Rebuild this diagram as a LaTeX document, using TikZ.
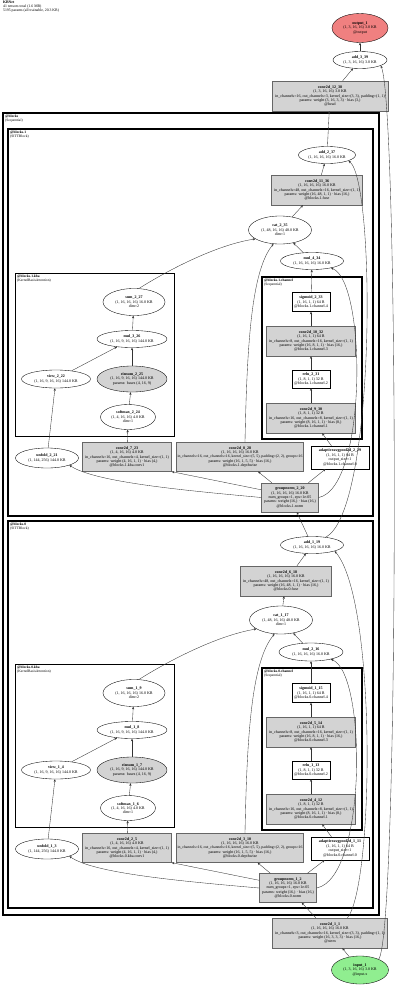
\documentclass[tikz,border=0pt]{standalone}
\usepackage{fontspec}
\setmainfont{Liberation Serif}
\usetikzlibrary{shapes.geometric,arrows.meta}
\definecolor{lgray}{HTML}{D3D3D3}
\definecolor{lred}{HTML}{F08080}
\definecolor{lgreen}{HTML}{90EE90}
\newsavebox\capbox
\newcommand\capw[2]{\sbox\capbox{#2}\ifdim\wd\capbox>#1\relax\resizebox{#1}{!}{\usebox\capbox}\else\usebox\capbox\fi}
\tikzset{
 nfont/.style={font=\fontsize{4}{4.4}\selectfont},
 ell/.style={ellipse, draw=black, line width=0.35pt, fill=white, inner sep=0pt, align=center, nfont},
 gell/.style={ell, fill=lgray},
 gbox/.style={rectangle, draw=black!60, line width=0.35pt, fill=lgray, inner sep=0pt, align=center, nfont},
 wbox/.style={gbox, fill=white, draw=black},
 edge/.style={draw=black!80, line width=0.35pt, -{Stealth[length=2.6pt,width=2.2pt]}},
 clus/.style={draw=black, line width=#1},
 clab/.style={anchor=north west, align=left, inner sep=0pt, font=\fontsize{3.6}{4}\selectfont},
 sz/.style 2 args={minimum width=#1pt, minimum height=#2pt},
}
\begin{document}
\begin{tikzpicture}[x=1pt,y=-1pt]
\fill[white] (0,0) rectangle (400,986);
\useasboundingbox (0,0) rectangle (400,986);

% title
\node[anchor=north west, align=left, inner sep=0pt, font=\fontsize{3.8}{4.1}\selectfont] (title) at (3,1)
 {\textbf{KBNet}\\41 tensors total (1.6 MB)\\5195 params (all trainable, 20.3 KB)};

% clusters
\draw[clus=1.5pt] (3,113) rectangle (379,915);
\node[clab] (lblocks) at (5,115) {\textbf{@blocks}\\(Sequential)};
\draw[clus=1.2pt] (8,129) rectangle (373,516);
\node[clab] (lb1) at (10,131) {\textbf{@blocks.1}\\(SITTBlock)};
\draw[clus=0.9pt] (15,273) rectangle (174,436);
\node[clab] (lb1k) at (17,275) {\textbf{@blocks.1.kba}\\(KernelBasisAttention)};
\draw[clus=1.2pt] (262,277) rectangle (362,439);
\node[clab] (lb1c) at (264,279) {\textbf{@blocks.1.channel}\\(Sequential)};
\draw[clus=1.2pt] (8,521) rectangle (373,908);
\node[clab] (lb0) at (10,523) {\textbf{@blocks.0}\\(SITTBlock)};
\draw[clus=0.9pt] (15,664) rectangle (174,827);
\node[clab] (lb0k) at (17,666) {\textbf{@blocks.0.kba}\\(KernelBasisAttention)};
\draw[clus=1.2pt] (262,668) rectangle (362,830);
\node[clab] (lb0c) at (264,670) {\textbf{@blocks.0.channel}\\(Sequential)};

% top
\node[ell, fill=lred, sz={56}{29}] (out1) at (360,28) {\textbf{output\_1}\\(1, 3, 16, 16) 3.0 KB\\@output};
\node[ell, sz={54}{17}] (add339) at (360,60) {\textbf{add\_3\_39}\\(1, 3, 16, 16) 3.0 KB};
\node[gbox, sz={116}{30}] (c1238) at (330,96) {\textbf{conv2d\_12\_38}\\(1, 3, 16, 16) 3.0 KB\\\capw{114pt}{in\_channels=16, out\_channels=3, kernel\_size=(3, 3), padding=(1, 1)}\\params: weight (3, 16, 3, 3) · bias (3,)\\@head};

% block 1
\node[ell, sz={57}{17}] (add237) at (327,155) {\textbf{add\_2\_37}\\(1, 16, 16, 16) 16.0 KB};
\node[gbox, sz={91}{30}] (c1136) at (317,190) {\textbf{conv2d\_11\_36}\\(1, 16, 16, 16) 16.0 KB\\\capw{89pt}{in\_channels=48, out\_channels=16, kernel\_size=(1, 1)}\\params: weight (16, 48, 1, 1) · bias (16,)\\@blocks.1.fuse};
\node[ell, sz={63}{28}] (cat235) at (280,230) {\textbf{cat\_2\_35}\\(1, 48, 16, 16) 48.0 KB\\dim=1};
\node[ell, sz={63}{17}] (mul434) at (312,261) {\textbf{mul\_4\_34}\\(1, 16, 16, 16) 16.0 KB};
\node[ell, sz={62}{27}] (sum227) at (134,302) {\textbf{sum\_2\_27}\\(1, 16, 16, 16) 16.0 KB\\dim=2};
\node[ell, sz={70}{17}] (mul326) at (132,339) {\textbf{mul\_3\_26}\\(1, 16, 9, 16, 16) 144.0 KB};
\node[ell, sz={69}{18}] (view222) at (56,379) {\textbf{view\_2\_22}\\(1, 16, 9, 16, 16) 144.0 KB};
\node[gell, sz={70}{26}] (ein225) at (132,379) {\textbf{einsum\_2\_25}\\(1, 16, 9, 16, 16) 144.0 KB\\params: bases (4, 16, 9)};
\node[ell, sz={55}{25}] (sm224) at (128,417) {\textbf{softmax\_2\_24}\\(1, 4, 16, 16) 4.0 KB\\dim=1};
\node[wbox, sz={38}{19}] (sig233) at (311,302) {\textbf{sigmoid\_2\_33}\\(1, 16, 1, 1) 64 B\\@blocks.1.channel.4};
\node[gbox, sz={89}{30}] (c1032) at (311,341) {\textbf{conv2d\_10\_32}\\(1, 16, 1, 1) 64 B\\\capw{87pt}{in\_channels=8, out\_channels=16, kernel\_size=(1, 1)}\\params: weight (16, 8, 1, 1) · bias (16,)\\@blocks.1.channel.3};
\node[wbox, sz={38}{18}] (relu231) at (311,379) {\textbf{relu\_2\_31}\\(1, 8, 1, 1) 32 B\\@blocks.1.channel.2};
\node[gbox, sz={89}{30}] (c930) at (311,418) {\textbf{conv2d\_9\_30}\\(1, 8, 1, 1) 32 B\\\capw{87pt}{in\_channels=16, out\_channels=8, kernel\_size=(1, 1)}\\params: weight (8, 16, 1, 1) · bias (8,)\\@blocks.1.channel.1};
\node[ell, sz={63}{20}] (unf221) at (47,458) {\textbf{unfold\_2\_21}\\(1, 144, 256) 144.0 KB};
\node[gbox, sz={89}{29}] (c723) at (127,457) {\textbf{conv2d\_7\_23}\\(1, 4, 16, 16) 4.0 KB\\\capw{87pt}{in\_channels=16, out\_channels=4, kernel\_size=(1, 1)}\\params: weight (4, 16, 1, 1) · bias (4,)\\@blocks.1.kba.conv1};
\node[gbox, sz={127}{29}] (c828) at (240,457) {\textbf{conv2d\_8\_28}\\(1, 16, 16, 16) 16.0 KB\\\capw{125pt}{in\_channels=16, out\_channels=16, kernel\_size=(5, 5), padding=(2, 2), groups=16}\\params: weight (16, 1, 5, 5) · bias (16,)\\@blocks.1.depthwise};
\node[wbox, sz={58}{23}] (ap229) at (340,457.5) {\capw{56pt}{\textbf{adaptiveavgpool2d\_2\_29}}\\(1, 16, 1, 1) 64 B\\output\_size=1\\@blocks.1.channel.0};
\node[gbox, sz={57}{29}] (gn220) at (290,497.5) {\textbf{groupnorm\_2\_20}\\(1, 16, 16, 16) 16.0 KB\\num\_groups=1, eps=1e-05\\\capw{55pt}{params: weight (16,) · bias (16,)}\\@blocks.1.norm};

% block 0
\node[ell, sz={63}{17}] (add119) at (312,545) {\textbf{add\_1\_19}\\(1, 16, 16, 16) 16.0 KB};
\node[gbox, sz={91}{30}] (c618) at (286,581) {\textbf{conv2d\_6\_18}\\(1, 16, 16, 16) 16.0 KB\\\capw{89pt}{in\_channels=48, out\_channels=16, kernel\_size=(1, 1)}\\params: weight (16, 48, 1, 1) · bias (16,)\\@blocks.0.fuse};
\node[ell, sz={63}{28}] (cat117) at (281,620) {\textbf{cat\_1\_17}\\(1, 48, 16, 16) 48.0 KB\\dim=1};
\node[ell, sz={64}{18}] (mul216) at (311,652) {\textbf{mul\_2\_16}\\(1, 16, 16, 16) 16.0 KB};
\node[ell, sz={62}{27}] (sum19) at (134,693) {\textbf{sum\_1\_9}\\(1, 16, 16, 16) 16.0 KB\\dim=2};
\node[ell, sz={70}{17}] (mul18) at (132,730) {\textbf{mul\_1\_8}\\(1, 16, 9, 16, 16) 144.0 KB};
\node[ell, sz={69}{18}] (view14) at (56,770) {\textbf{view\_1\_4}\\(1, 16, 9, 16, 16) 144.0 KB};
\node[gell, sz={70}{26}] (ein17) at (132,770) {\textbf{einsum\_1\_7}\\(1, 16, 9, 16, 16) 144.0 KB\\params: bases (4, 16, 9)};
\node[ell, sz={55}{25}] (sm16) at (128,808) {\textbf{softmax\_1\_6}\\(1, 4, 16, 16) 4.0 KB\\dim=1};
\node[wbox, sz={38}{19}] (sig115) at (311,693) {\textbf{sigmoid\_1\_15}\\(1, 16, 1, 1) 64 B\\@blocks.0.channel.4};
\node[gbox, sz={89}{30}] (c514) at (311,732) {\textbf{conv2d\_5\_14}\\(1, 16, 1, 1) 64 B\\\capw{87pt}{in\_channels=8, out\_channels=16, kernel\_size=(1, 1)}\\params: weight (16, 8, 1, 1) · bias (16,)\\@blocks.0.channel.3};
\node[wbox, sz={38}{18}] (relu113) at (311,770) {\textbf{relu\_1\_13}\\(1, 8, 1, 1) 32 B\\@blocks.0.channel.2};
\node[gbox, sz={89}{30}] (c412) at (311,809) {\textbf{conv2d\_4\_12}\\(1, 8, 1, 1) 32 B\\\capw{87pt}{in\_channels=16, out\_channels=8, kernel\_size=(1, 1)}\\params: weight (8, 16, 1, 1) · bias (8,)\\@blocks.0.channel.1};
\node[ell, sz={63}{20}] (unf13) at (47,849) {\textbf{unfold\_1\_3}\\(1, 144, 256) 144.0 KB};
\node[gbox, sz={89}{29}] (c25) at (127,848) {\textbf{conv2d\_2\_5}\\(1, 4, 16, 16) 4.0 KB\\\capw{87pt}{in\_channels=16, out\_channels=4, kernel\_size=(1, 1)}\\params: weight (4, 16, 1, 1) · bias (4,)\\@blocks.0.kba.conv1};
\node[gbox, sz={127}{29}] (c310) at (240,848) {\textbf{conv2d\_3\_10}\\(1, 16, 16, 16) 16.0 KB\\\capw{125pt}{in\_channels=16, out\_channels=16, kernel\_size=(5, 5), padding=(2, 2), groups=16}\\params: weight (16, 1, 5, 5) · bias (16,)\\@blocks.0.depthwise};
\node[wbox, sz={58}{23}] (ap111) at (340,848.5) {\capw{56pt}{\textbf{adaptiveavgpool2d\_1\_11}}\\(1, 16, 1, 1) 64 B\\output\_size=1\\@blocks.0.channel.0};
\node[gbox, sz={57}{29}] (gn12) at (288,888) {\textbf{groupnorm\_1\_2}\\(1, 16, 16, 16) 16.0 KB\\num\_groups=1, eps=1e-05\\\capw{55pt}{params: weight (16,) · bias (16,)}\\@blocks.0.norm};

% bottom
\node[gbox, sz={115}{30}] (c11) at (330,933) {\textbf{conv2d\_1\_1}\\(1, 16, 16, 16) 16.0 KB\\\capw{113pt}{in\_channels=3, out\_channels=16, kernel\_size=(3, 3), padding=(1, 1)}\\params: weight (16, 3, 3, 3) · bias (16,)\\@stem};
\node[ell, fill=lgreen, sz={57}{28}] (in1) at (360,970) {\textbf{input\_1}\\(1, 3, 16, 16) 3.0 KB\\@input.x};

% edges: top
\draw[edge] (add339) -- (out1);
\draw[edge] (c1238) -- (add339);
\draw[edge] (add237) -- (c1238);
\draw[edge] (in1) -- (c11);
\draw[edge] (in1.30) .. controls (399,935) and (399,110) .. (add339.-15);

% edges: block 1
\draw[edge] (c1136) -- (add237);
\draw[edge] (cat235) -- (c1136);
\draw[edge] (mul434) -- (cat235);
\draw[edge] (sum227.70) .. controls (165,272) and (215,245) .. (cat235.200);
\draw[edge] ([xshift=5pt]c828.north) .. controls (247,340) and (252,270) .. (cat235.245);
\draw[edge] (sig233) -- (mul434);
\draw[edge] (c1032) -- (sig233);
\draw[edge] (relu231) -- (c1032);
\draw[edge] (c930) -- (relu231);
\draw[edge] (ap229) -- (c930);
\draw[edge] (mul326) -- (sum227);
\draw[edge] (view222) -- (mul326);
\draw[edge] (ein225) -- (mul326);
\draw[edge] (sm224) -- (ein225);
\draw[edge] (c723) -- (sm224);
\draw[edge] (unf221) -- (view222);
\draw[edge] (gn220.west) .. controls (180,490) and (95,482) .. (unf221.south east);
\draw[edge] (gn220.165) -- (c723.south east);
\draw[edge] (gn220) -- (c828);
\draw[edge] (gn220) -- (ap229);
\draw[edge] (gn220.east) .. controls (367,488) and (367,282) .. (mul434.-20);
\draw[edge] (add119) -- (gn220);
\draw[edge] (add119.30) .. controls (376,512) and (376,182) .. (add237.-15);

% edges: block 0
\draw[edge] (c618) -- (add119);
\draw[edge] (cat117) -- (c618);
\draw[edge] (mul216) -- (cat117);
\draw[edge] (sum19.70) .. controls (165,663) and (215,636) .. (cat117.200);
\draw[edge] ([xshift=5pt]c310.north) .. controls (247,731) and (252,661) .. (cat117.245);
\draw[edge] (sig115) -- (mul216);
\draw[edge] (c514) -- (sig115);
\draw[edge] (relu113) -- (c514);
\draw[edge] (c412) -- (relu113);
\draw[edge] (ap111) -- (c412);
\draw[edge] (mul18) -- (sum19);
\draw[edge] (view14) -- (mul18);
\draw[edge] (ein17) -- (mul18);
\draw[edge] (sm16) -- (ein17);
\draw[edge] (c25) -- (sm16);
\draw[edge] (unf13) -- (view14);
\draw[edge] (gn12.west) .. controls (178,881) and (93,873) .. (unf13.south east);
\draw[edge] (gn12.165) -- (c25.south east);
\draw[edge] (gn12) -- (c310);
\draw[edge] (gn12) -- (ap111);
\draw[edge] (gn12.east) .. controls (367,878) and (367,673) .. (mul216.-20);
\draw[edge] (c11) -- (gn12);
\draw[edge] (c11.41) .. controls (374,885) and (377,600) .. (add119.-15);
\end{tikzpicture}
\end{document}
